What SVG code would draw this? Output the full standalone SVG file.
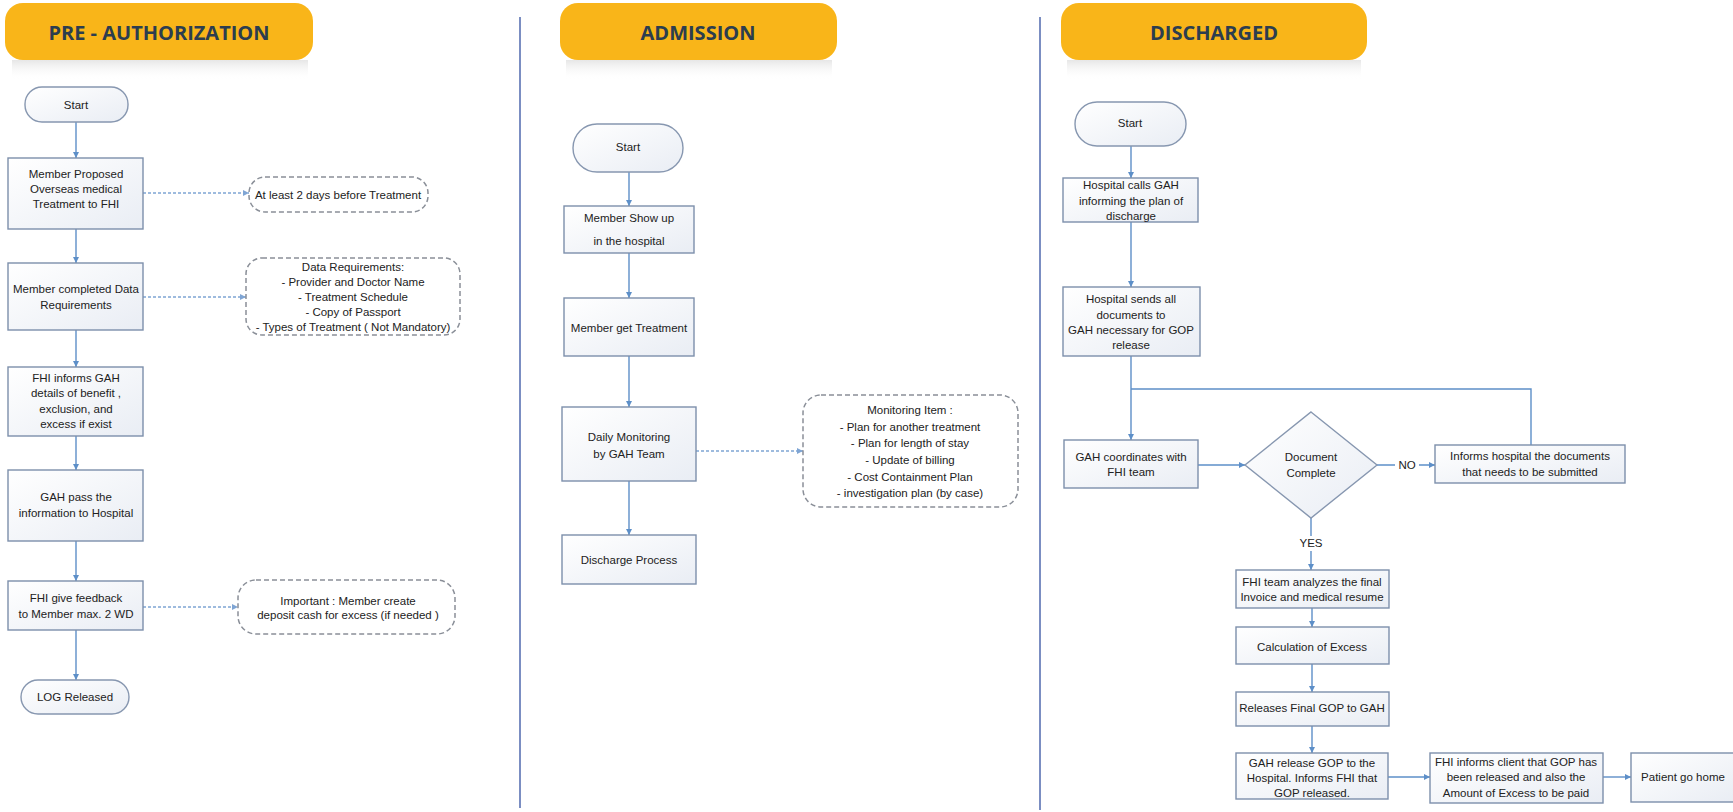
<svg xmlns="http://www.w3.org/2000/svg" width="1733" height="812" viewBox="0 0 1733 812">
<defs>
<linearGradient id="boxg" x1="0" y1="0" x2="1" y2="1">
<stop offset="0" stop-color="#ffffff"/>
<stop offset="1" stop-color="#e9edf4"/>
</linearGradient>
<linearGradient id="shadowg" x1="0" y1="0" x2="0" y2="1">
<stop offset="0" stop-color="#e6e6e6"/>
<stop offset="1" stop-color="#ffffff" stop-opacity="0"/>
</linearGradient>
<marker id="arr" markerWidth="8" markerHeight="8" refX="7" refY="4" orient="auto" markerUnits="userSpaceOnUse">
<path d="M1,1 L7,4 L1,7 z" fill="#5d8fc8"/>
</marker>
<marker id="arrd" markerWidth="8" markerHeight="8" refX="7" refY="4" orient="auto" markerUnits="userSpaceOnUse">
<path d="M1,1 L7,4 L1,7 z" fill="#7fa5d4"/>
</marker>
<style>
.hdr{fill:#F9B519}
.shd{fill:url(#shadowg)}
.htx{font-family:"Open Sans","Liberation Sans",sans-serif;font-weight:700;font-size:20px;fill:#2c3d4f;text-anchor:middle}
.box{fill:url(#boxg);stroke:#7d8fab;stroke-width:1.4}
.term{fill:url(#boxg);stroke:#8797b0;stroke-width:1.4}
.note{fill:#ffffff;stroke:#8a8f98;stroke-width:1.5;stroke-dasharray:5 3}
.tx{font-family:"Liberation Sans",Arial,sans-serif;font-size:11.5px;fill:#222;text-anchor:middle}
.lbl{font-family:"Liberation Sans",Arial,sans-serif;font-size:11.5px;fill:#222;text-anchor:middle}
.con{fill:none;stroke:#5d8fc8;stroke-width:1.4}
.dcon{fill:none;stroke:#7fa5d4;stroke-width:1.5;stroke-dasharray:3 2}
.div{stroke:#7b8ec2;stroke-width:2}
</style>
</defs>
<rect width="1733" height="812" fill="#ffffff"/>

<g id="dividers">
<line class="div" x1="520" y1="17" x2="520" y2="808"/>
<line class="div" x1="1040" y1="17" x2="1040" y2="810"/>
</g>

<g id="header-preauth">
<rect class="shd" x="12" y="60" width="296" height="20"/>
<rect class="hdr" x="5" y="3" width="308" height="57" rx="18"/>
<text class="htx" x="159" y="40">PRE - AUTHORIZATION</text>
</g>
<g id="header-admission">
<rect class="shd" x="566" y="60" width="266" height="20"/>
<rect class="hdr" x="560" y="3" width="277" height="57" rx="18"/>
<text class="htx" x="698" y="40">ADMISSION</text>
</g>
<g id="header-discharged">
<rect class="shd" x="1067" y="60" width="294" height="20"/>
<rect class="hdr" x="1061" y="3" width="306" height="57" rx="18"/>
<text class="htx" x="1214" y="40">DISCHARGED</text>
</g>

<g id="connectors">
<!-- pre-authorization -->
<line class="con" x1="76" y1="122" x2="76" y2="158" marker-end="url(#arr)"/>
<line class="con" x1="76" y1="229" x2="76" y2="263" marker-end="url(#arr)"/>
<line class="con" x1="76" y1="330" x2="76" y2="367" marker-end="url(#arr)"/>
<line class="con" x1="76" y1="436" x2="76" y2="470" marker-end="url(#arr)"/>
<line class="con" x1="76" y1="541" x2="76" y2="581" marker-end="url(#arr)"/>
<line class="con" x1="76" y1="630" x2="76" y2="680" marker-end="url(#arr)"/>
<line class="dcon" x1="143" y1="193" x2="249" y2="193" marker-end="url(#arrd)"/>
<line class="dcon" x1="143" y1="297" x2="246" y2="297" marker-end="url(#arrd)"/>
<line class="dcon" x1="143" y1="607" x2="238" y2="607" marker-end="url(#arrd)"/>
<!-- admission -->
<line class="con" x1="629" y1="172" x2="629" y2="206" marker-end="url(#arr)"/>
<line class="con" x1="629" y1="253" x2="629" y2="298" marker-end="url(#arr)"/>
<line class="con" x1="629" y1="356" x2="629" y2="407" marker-end="url(#arr)"/>
<line class="con" x1="629" y1="481" x2="629" y2="535" marker-end="url(#arr)"/>
<line class="dcon" x1="696" y1="451" x2="803" y2="451" marker-end="url(#arrd)"/>
<!-- discharged -->
<line class="con" x1="1131" y1="146" x2="1131" y2="178" marker-end="url(#arr)"/>
<line class="con" x1="1131" y1="222" x2="1131" y2="287" marker-end="url(#arr)"/>
<line class="con" x1="1131" y1="356" x2="1131" y2="440" marker-end="url(#arr)"/>
<path class="con" d="M1531,445 V389 H1131"/>
<line class="con" x1="1198" y1="465" x2="1245" y2="465" marker-end="url(#arr)"/>
<line class="con" x1="1377" y1="465" x2="1435" y2="465" marker-end="url(#arr)"/>
<line class="con" x1="1311" y1="518" x2="1311" y2="570" marker-end="url(#arr)"/>
<line class="con" x1="1312" y1="608" x2="1312" y2="627" marker-end="url(#arr)"/>
<line class="con" x1="1312" y1="664" x2="1312" y2="692" marker-end="url(#arr)"/>
<line class="con" x1="1312" y1="726" x2="1312" y2="753" marker-end="url(#arr)"/>
<line class="con" x1="1388" y1="777" x2="1430" y2="777" marker-end="url(#arr)"/>
<line class="con" x1="1603" y1="777" x2="1631" y2="777" marker-end="url(#arr)"/>
<rect x="1395" y="457" width="24" height="16" fill="#ffffff"/>
<text class="lbl" x="1407" y="469">NO</text>
<rect x="1297" y="536" width="28" height="15" fill="#ffffff"/>
<text class="lbl" x="1311" y="547">YES</text>
</g>

<!-- PRE-AUTHORIZATION nodes -->
<g id="pa-start">
<rect class="term" x="25" y="87" width="103" height="35" rx="17"/>
<text class="tx" x="76" y="109">Start</text>
</g>
<g id="pa-proposed">
<rect class="box" x="8" y="158" width="135" height="71"/>
<text class="tx" x="76" y="178">Member Proposed</text>
<text class="tx" x="76" y="193">Overseas medical</text>
<text class="tx" x="76" y="208">Treatment to FHI</text>
</g>
<g id="pa-note1">
<rect class="note" x="249" y="177" width="179" height="35" rx="16"/>
<text class="tx" x="338" y="199">At least 2 days before Treatment</text>
</g>
<g id="pa-completed">
<rect class="box" x="8" y="263" width="135" height="67"/>
<text class="tx" x="76" y="293">Member completed Data</text>
<text class="tx" x="76" y="309">Requirements</text>
</g>
<g id="pa-note2">
<rect class="note" x="246" y="258" width="214" height="77" rx="16"/>
<text class="tx" x="353" y="271">Data Requirements:</text>
<text class="tx" x="353" y="286">- Provider and Doctor Name</text>
<text class="tx" x="353" y="301">- Treatment Schedule</text>
<text class="tx" x="353" y="316">- Copy of Passport</text>
<text class="tx" x="353" y="331">- Types of Treatment ( Not Mandatory)</text>
</g>
<g id="pa-informs">
<rect class="box" x="8" y="367" width="135" height="69"/>
<text class="tx" x="76" y="382">FHI informs GAH</text>
<text class="tx" x="76" y="397">details of benefit ,</text>
<text class="tx" x="76" y="413">exclusion, and</text>
<text class="tx" x="76" y="428">excess if exist</text>
</g>
<g id="pa-pass">
<rect class="box" x="8" y="470" width="135" height="71"/>
<text class="tx" x="76" y="501">GAH pass the</text>
<text class="tx" x="76" y="517">information to Hospital</text>
</g>
<g id="pa-feedback">
<rect class="box" x="8" y="581" width="135" height="49"/>
<text class="tx" x="76" y="602">FHI give feedback</text>
<text class="tx" x="76" y="618">to Member max. 2 WD</text>
</g>
<g id="pa-note3">
<rect class="note" x="238" y="580" width="217" height="54" rx="18"/>
<text class="tx" x="348" y="605">Important : Member create</text>
<text class="tx" x="348" y="619">deposit cash for excess (if needed )</text>
</g>
<g id="pa-log">
<rect class="term" x="21" y="680" width="108" height="34" rx="17"/>
<text class="tx" x="75" y="701">LOG Released</text>
</g>

<!-- ADMISSION nodes -->
<g id="ad-start">
<rect class="term" x="573" y="124" width="110" height="48" rx="24"/>
<text class="tx" x="628" y="151">Start</text>
</g>
<g id="ad-showup">
<rect class="box" x="564" y="206" width="130" height="47"/>
<text class="tx" x="629" y="222">Member Show up</text>
<text class="tx" x="629" y="245">in the hospital</text>
</g>
<g id="ad-treatment">
<rect class="box" x="564" y="298" width="130" height="58"/>
<text class="tx" x="629" y="332">Member get Treatment</text>
</g>
<g id="ad-monitoring">
<rect class="box" x="562" y="407" width="134" height="74"/>
<text class="tx" x="629" y="441">Daily Monitoring</text>
<text class="tx" x="629" y="458">by GAH Team</text>
</g>
<g id="ad-note">
<rect class="note" x="803" y="395" width="215" height="112" rx="18"/>
<text class="tx" x="910" y="414">Monitoring Item :</text>
<text class="tx" x="910" y="431">- Plan for another treatment</text>
<text class="tx" x="910" y="447">- Plan for length of stay</text>
<text class="tx" x="910" y="464">- Update of billing</text>
<text class="tx" x="910" y="481">- Cost Containment Plan</text>
<text class="tx" x="910" y="497">- investigation plan (by case)</text>
</g>
<g id="ad-discharge">
<rect class="box" x="562" y="535" width="134" height="49"/>
<text class="tx" x="629" y="564">Discharge Process</text>
</g>

<!-- DISCHARGED nodes -->
<g id="dc-start">
<rect class="term" x="1075" y="102" width="111" height="44" rx="22"/>
<text class="tx" x="1130" y="127">Start</text>
</g>
<g id="dc-calls">
<rect class="box" x="1063" y="178" width="135" height="44"/>
<text class="tx" x="1131" y="189">Hospital calls GAH</text>
<text class="tx" x="1131" y="205">informing the plan of</text>
<text class="tx" x="1131" y="220">discharge</text>
</g>
<g id="dc-sends">
<rect class="box" x="1063" y="287" width="137" height="69"/>
<text class="tx" x="1131" y="303">Hospital sends all</text>
<text class="tx" x="1131" y="319">documents to</text>
<text class="tx" x="1131" y="334">GAH necessary for GOP</text>
<text class="tx" x="1131" y="349">release</text>
</g>
<g id="dc-coordinates">
<rect class="box" x="1064" y="440" width="134" height="48"/>
<text class="tx" x="1131" y="461">GAH coordinates with</text>
<text class="tx" x="1131" y="476">FHI team</text>
</g>
<g id="dc-decision">
<polygon class="term" points="1311,412 1377,465 1311,518 1245,465"/>
<text class="tx" x="1311" y="461">Document</text>
<text class="tx" x="1311" y="477">Complete</text>
</g>
<g id="dc-informs-hospital">
<rect class="box" x="1435" y="445" width="190" height="38"/>
<text class="tx" x="1530" y="460">Informs hospital the documents</text>
<text class="tx" x="1530" y="476">that needs to be submitted</text>
</g>
<g id="dc-analyzes">
<rect class="box" x="1236" y="570" width="153" height="38"/>
<text class="tx" x="1312" y="586">FHI team analyzes the final</text>
<text class="tx" x="1312" y="601">Invoice and medical resume</text>
</g>
<g id="dc-calculation">
<rect class="box" x="1236" y="627" width="153" height="37"/>
<text class="tx" x="1312" y="651">Calculation of Excess</text>
</g>
<g id="dc-final-gop">
<rect class="box" x="1236" y="692" width="153" height="34"/>
<text class="tx" x="1312" y="712">Releases Final GOP to GAH</text>
</g>
<g id="dc-release-gop">
<rect class="box" x="1236" y="753" width="152" height="46"/>
<text class="tx" x="1312" y="767">GAH release GOP to the</text>
<text class="tx" x="1312" y="782">Hospital. Informs FHI that</text>
<text class="tx" x="1312" y="797">GOP released.</text>
</g>
<g id="dc-informs-client">
<rect class="box" x="1430" y="753" width="173" height="50"/>
<text class="tx" x="1516" y="766">FHI informs client that GOP has</text>
<text class="tx" x="1516" y="781">been released and also the</text>
<text class="tx" x="1516" y="797">Amount of Excess to be paid</text>
</g>
<g id="dc-home">
<rect class="box" x="1631" y="753" width="104" height="49"/>
<text class="tx" x="1683" y="781">Patient go home</text>
</g>
</svg>
